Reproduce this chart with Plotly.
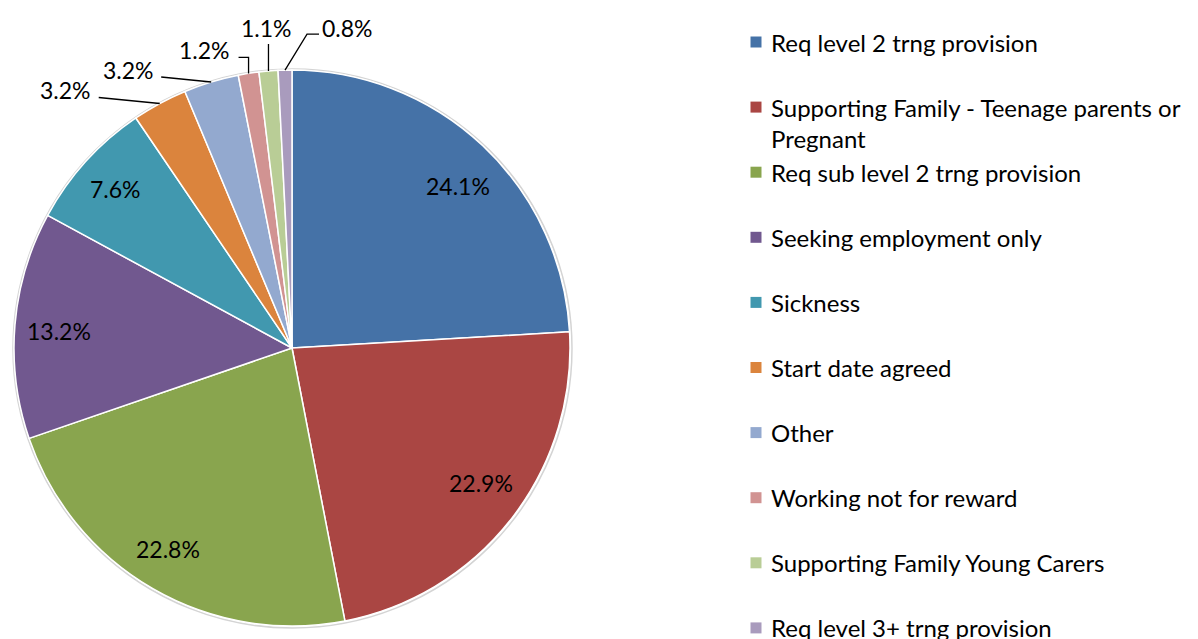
import math
import plotly.graph_objects as go

# Reasons recorded for not yet being in learning (percent of cases)
categories = [
    "Req level 2 trng provision",
    "Supporting Family - Teenage parents or Pregnant",
    "Req sub level 2 trng provision",
    "Seeking employment only",
    "Sickness",
    "Start date agreed",
    "Other",
    "Working not for reward",
    "Supporting Family Young Carers",
    "Req level 3+ trng provision",
]
shares = [24.1, 22.9, 22.8, 13.2, 7.6, 3.2, 3.2, 1.2, 1.1, 0.8]
legend_labels = [
    "Req level 2 trng provision",
    "Supporting Family - Teenage parents or<br>Pregnant",
    "Req sub level 2 trng provision",
    "Seeking employment only",
    "Sickness",
    "Start date agreed",
    "Other",
    "Working not for reward",
    "Supporting Family Young Carers",
    "Req level 3+ trng provision",
]

colors = ["#4572A7", "#AA4643", "#89A54E", "#71588F", "#4198AF",
          "#DB843D", "#93A9CF", "#D19392", "#B9CD96", "#A99BBD"]

FONT = "Lato, 'Open Sans', sans-serif"
W, H = 1198, 639
CX, CY, R = 292, 348, 278          # pie centre and radius in pixels
INSIDE_R = 0.84                    # radial position of inside labels
SMALL = 5                          # slices from this index get outside labels

# small pixel nudges for the inside labels
inside_nudge = [(6, 8), (5, -8), (-7, -1), (0, 2), (-3, -2)]

# outside label layout, per small slice: text centre offset from the slice
# edge point, and the leader-line vertices after the edge point
outside_layout = [
    ((-94, -13), [(-61, -6)]),
    ((-83, -12), [(-50, -5)]),
    ((-44, -23), [(0, -16), (-10, -16)]),
    ((-2, -43), [(0, -27)]),
    ((62, -42), [(22, -36), (34, -36)]),
]


def px(x):
    return x / W


def py(y):
    return 1 - y / H


fig = go.Figure()

# soft outline behind the pie
fig.add_shape(type="circle", xref="paper", yref="paper",
              x0=px(CX - R - 1), x1=px(CX + R + 2),
              y0=py(CY + R + 2), y1=py(CY - R - 1),
              line=dict(color="#d4d4d4", width=1.5), fillcolor="rgba(0,0,0,0)",
              layer="below")

fig.add_trace(go.Pie(
    labels=categories,
    values=shares,
    sort=False,
    direction="clockwise",
    rotation=0,
    marker=dict(colors=colors, line=dict(color="white", width=1.5)),
    textinfo="none",
    hoverinfo="label+percent",
    showlegend=False,
    domain=dict(x=[px(CX - R), px(CX + R)], y=[py(CY + R), py(CY - R)]),
))

total = sum(shares)
cum = 0.0
for i, v in enumerate(shares):
    mid = (cum + v / 2) / total * 2 * math.pi
    cum += v
    sx, sy = math.sin(mid), -math.cos(mid)
    label = f"{v:.1f}%"
    if i < SMALL:
        nx, ny = inside_nudge[i]
        tx, ty = CX + INSIDE_R * R * sx + nx, CY + INSIDE_R * R * sy + ny
    else:
        ex, ey = CX + R * sx, CY + R * sy
        (ox, oy), pts = outside_layout[i - SMALL]
        tx, ty = ex + ox, ey + oy
        path = f"M {px(ex)} {py(ey)}"
        for dx, dy in pts:
            path += f" L {px(ex + dx)} {py(ey + dy)}"
        fig.add_shape(type="path", xref="paper", yref="paper", path=path,
                      line=dict(color="black", width=1.3))
    fig.add_annotation(x=px(tx), y=py(ty), xref="paper", yref="paper",
                       text=label, showarrow=False,
                       xanchor="center", yanchor="middle",
                       font=dict(family=FONT, size=23, color="black"))

# legend column
LEG_X, LEG_Y0, LEG_STEP, SQ, LINE_H = 756, 42, 65.1, 11, 31
for i, (lab, col) in enumerate(zip(legend_labels, colors)):
    cy = LEG_Y0 + i * LEG_STEP
    nlines = lab.count("<br>") + 1
    fig.add_shape(type="rect", xref="paper", yref="paper",
                  x0=px(LEG_X - SQ / 2), x1=px(LEG_X + SQ / 2),
                  y0=py(cy + SQ / 2), y1=py(cy - SQ / 2),
                  fillcolor=col, line=dict(width=0))
    fig.add_annotation(x=px(LEG_X + 13), y=py(cy + (nlines - 1) * LINE_H / 2),
                       xref="paper", yref="paper",
                       text=lab, showarrow=False, align="left",
                       xanchor="left", yanchor="middle",
                       font=dict(family=FONT, size=24, color="black"))

fig.update_layout(
    width=W, height=H,
    margin=dict(l=0, r=0, t=0, b=0),
    paper_bgcolor="white", plot_bgcolor="white",
)

fig.write_html("out.html")
